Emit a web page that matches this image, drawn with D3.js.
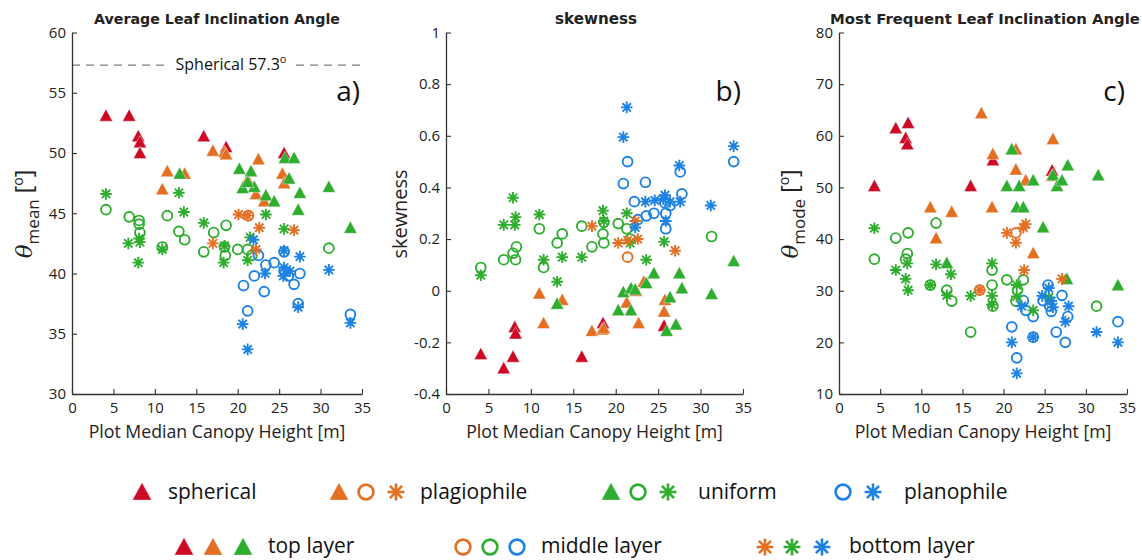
<!DOCTYPE html>
<html><head><meta charset="utf-8">
<script src="https://cdn.jsdelivr.net/npm/d3@7"></script>
<style>body{margin:0;background:#fff} svg{display:block}</style>
</head><body>
<svg id="chart" width="1142" height="560"></svg>
<script>
// ---------------- DATA ----------------
const xTicks = [0, 5, 10, 15, 20, 25, 30, 35];
const meanTicks = [30, 35, 40, 45, 50, 55, 60];
const skewTicks = [-0.4, -0.2, 0, 0.2, 0.4, 0.6, 0.8, 1];
const modeTicks = [10, 20, 30, 40, 50, 60, 70, 80];
const sphericalRef = 57.3;

// Panel a) mean leaf inclination angle  [canopy height, value]
const aSphTop = [[4.1,53.1],[6.9,53.1],[8.0,51.4],[8.2,50.9],[8.2,50.0],[15.9,51.4],[18.6,50.5],[25.6,50.0]];
const aPlaTop = [[17.0,50.2],[18.4,50.1],[18.6,49.9],[22.5,49.5],[11.5,48.5],[13.6,48.3],[10.9,47.0],[21.2,47.8],[22.2,46.6],[23.2,46.0],[25.4,48.3],[25.6,47.5]];
const aPlaMid = [[21.3,44.8]];
const aPlaBot = [[20.1,44.9],[21.2,44.8],[17.0,42.5],[22.6,43.8],[22.2,42.0],[26.8,43.6]];
const aUniTop = [[13.0,48.3],[20.2,48.7],[21.6,48.5],[20.6,47.1],[22.0,47.2],[21.2,47.6],[23.4,46.5],[24.4,46.0],[25.7,49.6],[26.8,49.6],[26.2,47.9],[27.5,46.7],[27.3,45.3],[31.0,47.2],[33.6,43.8]];
const aUniMid = [[4.1,45.3],[6.9,44.7],[8.1,44.4],[8.1,44.1],[8.2,43.4],[11.5,44.8],[10.9,42.2],[12.9,43.5],[13.6,42.8],[15.9,41.8],[17.1,43.4],[18.6,44.0],[18.5,41.5],[18.4,42.2],[20.0,42.0],[21.2,42.0],[21.7,41.5],[31.0,42.1]];
const aUniBot = [[4.1,46.6],[12.9,46.7],[13.5,45.1],[6.8,42.5],[8.2,42.6],[8.1,42.9],[8.0,40.9],[10.9,42.0],[15.9,44.2],[18.4,42.3],[18.3,40.9],[23.4,44.9],[25.6,43.7],[21.5,43.0],[21.2,41.1]];
const aPlnMid = [[22.5,41.5],[23.4,40.7],[24.4,40.9],[25.6,41.8],[25.6,40.2],[27.5,40.0],[26.8,39.1],[20.7,39.0],[22.0,39.8],[23.2,38.5],[21.2,36.9],[27.3,37.5],[33.6,36.6],[26.1,39.8]];
const aPlnBot = [[21.9,42.8],[25.6,41.9],[27.5,41.4],[31.0,40.3],[23.3,40.0],[25.6,40.5],[25.5,39.8],[26.3,40.2],[20.6,35.8],[21.2,33.7],[27.3,37.2],[33.6,35.9]];

// Panel b) skewness
const bSphTop = [[4.1,-0.245],[6.8,-0.30],[7.9,-0.255],[8.1,-0.14],[8.2,-0.165],[16.0,-0.255],[18.5,-0.125],[25.7,-0.135]];
const bPlaTop = [[11.0,-0.01],[13.7,-0.035],[11.5,-0.125],[17.2,-0.155],[18.4,-0.15],[18.6,-0.145],[21.3,-0.045],[22.7,-0.125],[23.3,0.035],[22.4,0.0],[25.8,-0.035],[25.7,-0.08]];
const bPlaMid = [[21.4,0.13]];
const bPlaBot = [[17.2,0.25],[20.3,0.185],[21.4,0.195],[22.6,0.20],[22.3,0.27],[27.0,0.155]];
const bUniTop = [[13.1,-0.05],[20.3,-0.075],[20.9,-0.005],[21.8,0.01],[21.8,-0.075],[22.3,0.005],[23.6,0.03],[24.5,0.068],[26.4,-0.025],[27.1,-0.13],[26.0,-0.155],[27.5,0.068],[27.8,0.01],[31.3,-0.012],[33.9,0.115]];
const bUniMid = [[4.1,0.09],[6.8,0.12],[7.9,0.145],[8.3,0.17],[8.2,0.12],[11.0,0.24],[11.5,0.09],[13.1,0.185],[13.7,0.22],[16.0,0.25],[17.2,0.17],[18.5,0.22],[18.6,0.185],[18.6,0.265],[20.3,0.26],[21.3,0.24],[21.7,0.20],[31.3,0.21]];
const bUniBot = [[4.1,0.06],[6.8,0.255],[8.1,0.255],[8.2,0.285],[7.9,0.36],[11.0,0.295],[11.5,0.12],[13.1,0.035],[13.7,0.13],[16.0,0.13],[18.5,0.31],[18.6,0.27],[21.3,0.30],[21.7,0.185],[23.6,0.12],[25.7,0.19]];
const bPlnMid = [[21.4,0.50],[20.9,0.415],[23.5,0.42],[33.9,0.50],[27.6,0.46],[27.8,0.375],[22.2,0.345],[24.5,0.30],[23.6,0.29],[25.9,0.30],[25.9,0.24],[22.6,0.275],[25.8,0.34],[26.4,0.33]];
const bPlnBot = [[21.3,0.71],[20.9,0.595],[33.9,0.56],[27.5,0.485],[31.2,0.33],[23.5,0.345],[24.6,0.35],[25.8,0.37],[26.4,0.345],[27.6,0.345],[25.9,0.27],[22.3,0.245],[25.6,0.355]];

// Panel c) most frequent (mode) leaf inclination angle
const cSphTop = [[4.3,50.3],[6.9,61.5],[8.4,62.5],[8.1,59.6],[8.3,58.4],[16.0,50.3],[18.7,55.3],[25.9,53.3]];
const cPlaTop = [[17.3,64.4],[18.7,56.5],[21.5,57.4],[21.5,53.5],[22.7,51.4],[26.0,59.4],[25.9,52.3],[11.1,46.2],[13.7,45.3],[18.6,46.2],[11.8,40.2],[23.6,37.3]];
const cPlaMid = [[21.5,41.2],[17.1,30.1]];
const cPlaBot = [[20.4,41.2],[21.5,39.3],[22.7,42.9],[22.4,42.2],[22.5,34.0],[27.1,32.3],[17.1,30.1]];
const cUniTop = [[21.0,57.4],[20.4,50.3],[21.9,50.3],[23.6,51.4],[26.0,52.4],[26.5,50.3],[27.1,51.4],[27.8,54.3],[31.5,52.4],[21.6,46.2],[22.4,46.2],[24.8,42.3],[13.1,35.4],[27.7,32.3],[33.9,31.1]];
const cUniMid = [[4.3,36.1],[6.9,40.2],[8.4,41.2],[8.3,37.2],[8.1,36.1],[11.1,31.1],[11.8,43.1],[13.1,30.1],[13.7,28.0],[16.0,22.0],[18.6,34.0],[18.6,31.1],[18.7,27.0],[20.4,32.1],[22.4,32.1],[21.7,30.1],[21.5,28.0],[31.3,27.0]];
const cUniBot = [[4.3,42.1],[6.9,34.0],[8.1,32.3],[8.4,30.1],[8.3,35.3],[11.8,35.1],[13.6,33.2],[13.1,29.1],[16.0,29.0],[18.6,35.3],[18.6,29.0],[18.6,27.3],[21.6,31.1],[21.6,28.9],[23.6,26.2],[25.5,28.7],[11.1,31.1]];
const cPlnMid = [[27.1,29.1],[25.4,31.1],[24.8,28.1],[25.8,26.0],[27.8,25.0],[23.6,25.0],[22.4,28.1],[22.7,26.2],[21.0,23.0],[26.4,22.0],[23.6,21.0],[27.5,20.0],[21.6,17.0],[33.9,24.0],[25.6,27.0]];
const cPlnBot = [[24.7,29.0],[26.0,26.8],[27.9,27.0],[27.5,24.0],[21.0,20.0],[21.6,14.0],[31.3,22.0],[33.9,20.0],[22.2,27.0],[25.8,28.0],[23.6,21.0],[25.5,30.5]];

// ---------------- STYLE ----------------
const COL = {sph:"#cc0a25", pla:"#e46f23", uni:"#2ead2e", pln:"#1c82e4"};
const FONT = "'Open Sans', 'Noto Sans', sans-serif";
const TITLEFONT = "'DejaVu Sans', Verdana, sans-serif";

const svg = d3.select("#chart");

function fit(sel, target) {
  const len = sel.node().getComputedTextLength();
  const fs = parseFloat(sel.attr("font-size"));
  if (len > 0) sel.attr("font-size", (fs * target / len).toFixed(2));
  return sel;
}

function shapePath(shape, big) {
  const k = big ? 1.45 : 1;
  if (shape === "tri") {
    const w = 6.6 * k, t = 6.6 * k, b = 5.6 * k;
    return `M0,${-t}L${w},${b}L${-w},${b}Z`;
  }
  if (shape === "ast") {
    const r = 5.8 * k, d = r * 0.72;
    return `M${-r},0L${r},0M0,${-r}L0,${r}M${-d},${-d}L${d},${d}M${-d},${d}L${d},${-d}`;
  }
  return null;
}

function drawMarker(g, shape, color, x, y, big) {
  if (shape === "circ") {
    g.append("circle").attr("cx", x).attr("cy", y).attr("r", big ? 7.4 : 4.9)
      .attr("fill", "none").attr("stroke", color).attr("stroke-width", big ? 2.6 : 1.9);
  } else if (shape === "tri") {
    g.append("path").attr("transform", `translate(${x},${y})`).attr("d", shapePath("tri", big))
      .attr("fill", color).attr("stroke", "#fff").attr("stroke-opacity", 0.5).attr("stroke-width", 0.8);
  } else {
    g.append("path").attr("transform", `translate(${x},${y})`).attr("d", shapePath("ast", big))
      .attr("fill", "none").attr("stroke", color).attr("stroke-width", big ? 2.6 : 1.9);
  }
}

const panels = [
  { x0: 72, x1: 362, yDom: [30, 60], ticks: meanTicks, title: "Average Leaf Inclination Angle", titleW: 246, titleX: 217, tag: "a)",
    ylab: {kind: "theta", sub: "mean", x: 32},
    series: [[aSphTop,"tri","sph"],[aPlaTop,"tri","pla"],[aUniTop,"tri","uni"],[aUniMid,"circ","uni"],[aPlaMid,"circ","pla"],[aPlnMid,"circ","pln"],[aUniBot,"ast","uni"],[aPlaBot,"ast","pla"],[aPlnBot,"ast","pln"]] },
  { x0: 446, x1: 743, yDom: [-0.4, 1], ticks: skewTicks, title: "skewness", titleW: 82, titleX: 596, tag: "b)",
    ylab: {kind: "plain", text: "skewness", x: 407},
    series: [[bSphTop,"tri","sph"],[bPlaTop,"tri","pla"],[bUniTop,"tri","uni"],[bUniMid,"circ","uni"],[bPlaMid,"circ","pla"],[bPlnMid,"circ","pln"],[bUniBot,"ast","uni"],[bPlaBot,"ast","pla"],[bPlnBot,"ast","pln"]] },
  { x0: 839, x1: 1127, yDom: [10, 80], ticks: modeTicks, title: "Most Frequent Leaf Inclination Angle", titleW: 310, titleX: 985, tag: "c)",
    ylab: {kind: "theta", sub: "mode", x: 798},
    series: [[cSphTop,"tri","sph"],[cPlaTop,"tri","pla"],[cUniTop,"tri","uni"],[cUniMid,"circ","uni"],[cPlaMid,"circ","pla"],[cPlnMid,"circ","pln"],[cUniBot,"ast","uni"],[cPlaBot,"ast","pla"],[cPlnBot,"ast","pln"]] }
];

const yTop = 32.5, yBot = 394;

panels.forEach((p, i) => {
  const x = d3.scaleLinear().domain([0, 35]).range([p.x0, p.x1]);
  const y = d3.scaleLinear().domain(p.yDom).range([yBot, yTop]);
  const g = svg.append("g");

  // reference line (panel a only)
  if (i === 0) {
    const yy = y(sphericalRef);
    g.append("line").attr("x1", x(0)).attr("x2", x(35)).attr("y1", yy).attr("y2", yy)
      .attr("stroke", "#7a7a7a").attr("stroke-width", 1.2).attr("stroke-dasharray", "8,6");
    g.append("rect").attr("x", 170).attr("y", yy - 10).attr("width", 120).attr("height", 20).attr("fill", "#fff");
    const t = g.append("text").attr("x", 231).attr("y", yy + 5).attr("text-anchor", "middle")
      .attr("font-family", FONT).attr("font-size", 16).attr("fill", "#111");
    t.append("tspan").text("Spherical " + sphericalRef);
    t.append("tspan").attr("font-size", 11).attr("dy", -7).text("o");
  }

  // axes
  const ax = g.append("g").attr("transform", `translate(0,${yBot})`)
    .call(d3.axisBottom(x).tickValues(xTicks).tickSizeInner(-5).tickSizeOuter(0).tickPadding(8));
  const ay = g.append("g").attr("transform", `translate(${p.x0},0)`)
    .call(d3.axisLeft(y).tickValues(p.ticks).tickSizeInner(-5).tickSizeOuter(0).tickPadding(6).tickFormat(d => String(d)));
  [ax, ay].forEach(a => {
    a.select(".domain").attr("stroke", "#333").attr("stroke-width", 1.3);
    a.selectAll(".tick line").attr("stroke", "#333").attr("stroke-width", 1.1);
    a.selectAll(".tick text").attr("font-family", FONT).attr("font-size", 15).attr("fill", "#222");
  });

  // title
  const tt = g.append("text").attr("x", p.titleX).attr("y", 24).attr("text-anchor", "middle")
    .attr("font-family", TITLEFONT).attr("font-weight", "bold").attr("font-size", 13).attr("fill", "#222").text(p.title);
  fit(tt, p.titleW);

  // x label
  const xl = g.append("text").attr("x", (p.x0 + p.x1) / 2).attr("y", 438).attr("text-anchor", "middle")
    .attr("font-family", FONT).attr("font-size", 18).attr("fill", "#222").text("Plot Median Canopy Height [m]");
  fit(xl, 257);

  // y label
  const yl = g.append("g").attr("transform", `translate(${p.ylab.x},214) rotate(-90)`);
  if (p.ylab.kind === "theta") {
    const t = yl.append("text").attr("text-anchor", "middle").attr("font-family", FONT).attr("fill", "#222").attr("font-size", 23);
    t.append("tspan").attr("font-style", "italic").attr("font-family", "'DejaVu Serif', serif").text("θ");
    t.append("tspan").attr("font-size", 17).attr("dy", 7).text(p.ylab.sub);
    t.append("tspan").attr("dy", -7).text(" [");
    t.append("tspan").attr("font-size", 14).attr("dy", -9).text("o");
    t.append("tspan").attr("dy", 9).text("]");
  } else {
    const t = yl.append("text").attr("text-anchor", "middle").attr("font-family", FONT).attr("fill", "#222")
      .attr("font-size", 20).text(p.ylab.text);
    fit(t, 89);
  }

  // panel tag
  g.append("text").attr("x", p.x1 - 2).attr("y", 101).attr("text-anchor", "end")
    .attr("font-family", FONT).attr("font-size", 28).attr("fill", "#111").text(p.tag);

  // markers
  const mg = g.append("g");
  p.series.forEach(([data, shape, type]) => {
    data.forEach(d => drawMarker(mg, shape, COL[type], x(d[0]), y(d[1]), false));
  });
});

// ---------------- LEGEND ----------------
const legendRows = [
  { y: 492, ty: 499, items: [
    { marks: [["tri","sph",142]], label: "spherical", lx: 168, lw: 96 },
    { marks: [["tri","pla",339],["circ","pla",366],["ast","pla",396]], label: "plagiophile", lx: 420, lw: 116 },
    { marks: [["tri","uni",611],["circ","uni",638],["ast","uni",668]], label: "uniform", lx: 698, lw: 85 },
    { marks: [["circ","pln",843],["ast","pln",873]], label: "planophile", lx: 904, lw: 111 } ] },
  { y: 547, ty: 553, items: [
    { marks: [["tri","sph",184],["tri","pla",213],["tri","uni",243]], label: "top layer", lx: 268, lw: 97 },
    { marks: [["circ","pla",463],["circ","uni",490],["circ","pln",517]], label: "middle layer", lx: 541, lw: 130 },
    { marks: [["ast","pla",765],["ast","uni",792],["ast","pln",822]], label: "bottom layer", lx: 849, lw: 139 } ] }
];
const lg = svg.append("g");
legendRows.forEach(row => {
  row.items.forEach(it => {
    it.marks.forEach(([shape, type, mx]) => drawMarker(lg, shape, COL[type], mx, row.y, true));
    const t = lg.append("text").attr("x", it.lx).attr("y", row.ty).attr("font-family", FONT)
      .attr("font-size", 22).attr("fill", "#111").text(it.label);
    fit(t, it.lw);
    if (parseFloat(t.attr("font-size")) > 21) t.attr("font-size", 21);
  });
});
</script>
</body></html>
